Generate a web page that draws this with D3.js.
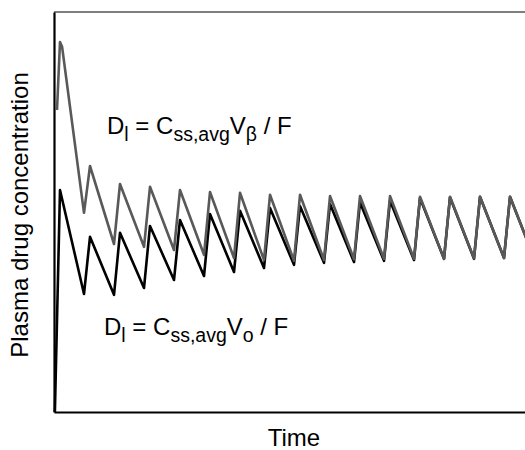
<!DOCTYPE html>
<html><head><meta charset="utf-8">
<script src="https://cdn.jsdelivr.net/npm/d3@7"></script>
<style>body{margin:0;background:#fff}svg{display:block}text{font-family:"Liberation Sans",Arial,sans-serif;fill:#000}</style>
</head><body><svg id="c" width="525" height="450"></svg>
<script>
// Dose times (dosing interval = 1 time unit)
const doseTimes = [0,1,2,3,4,5,6,7,8,9,10,11,12,13,14,15];
const peakOffset = 0.2;
// Maintenance-only regimen (black): peak after each dose, trough just before next dose
const maintStart = {t:0.03, c:0};
const maintPeaks = [55.5,43.8,44.8,46.5,48.0,49.5,50.3,51.0,51.5,52.0,52.4,52.8,53.5,53.7,53.8,53.8];
const maintTroughs = [29.5,29.3,31.0,33.0,34.0,35.0,36.0,36.8,37.3,37.5,37.8,38.0,38.3,38.3,38.5,38.5];
// Loading dose regimen (gray)
const loadStart = {t:0.1, c:75.5};
const loadShoulder = {t:0.27, c:91.3};
const loadPeaks = [92.5,61.5,57.0,56.3,55.5,55.0,54.8,54.3,54.3,54.0,54.0,54.0,53.8,53.8,53.8,53.8];
const loadTroughs = [49.8,42.0,41.3,40.5,39.3,38.5,38.0,37.8,38.0,38.2,38.3,38.3,38.3,38.4,38.5,38.5];

const svg = d3.select("#c");
const x = d3.scaleLinear().domain([0,16]).range([54,534]);
const y = d3.scaleLinear().domain([0,100]).range([412,12]);

function series(start, peaks, troughs, shoulder){
  const pts=[start];
  doseTimes.forEach((d,i)=>{
    pts.push({t:d+peakOffset, c:peaks[i]});
    if(i===0 && shoulder) pts.push(shoulder);
    pts.push({t:d+1, c:troughs[i]});
  });
  return pts;
}
const line = d3.line().x(d=>x(d.t)).y(d=>y(d.c)).curve(d3.curveLinear);

svg.append("path").datum(series(maintStart,maintPeaks,maintTroughs))
  .attr("d",line).attr("fill","none").attr("stroke","#000").attr("stroke-width",2.6)
  .attr("stroke-linejoin","round");
svg.append("path").datum(series(loadStart,loadPeaks,loadTroughs,loadShoulder))
  .attr("d",line).attr("fill","none").attr("stroke","#595959").attr("stroke-width",2.6)
  .attr("stroke-linejoin","round");

// frame
svg.append("line").attr("x1",x(0)).attr("x2",x(16)).attr("y1",y(100)).attr("y2",y(100))
  .attr("stroke","#555").attr("stroke-width",1.5);
svg.append("g").attr("transform",`translate(0,${y(0)})`)
  .call(d3.axisBottom(x).ticks(0).tickSizeOuter(0));
svg.append("g").attr("transform",`translate(${x(0)},0)`)
  .call(d3.axisLeft(y).ticks(0).tickSizeOuter(0));
svg.selectAll(".domain").attr("stroke","#000").attr("stroke-width",2.2);

svg.append("text").attr("x",294).attr("y",446).attr("text-anchor","middle")
  .attr("font-size",24).text("Time");
svg.append("text").attr("transform","translate(28,215) rotate(-90)").attr("text-anchor","middle")
  .attr("font-size",24).text("Plasma drug concentration");

function eq(x0,y0,sub){
  const t = svg.append("text").attr("x",x0).attr("y",y0).attr("font-size",24);
  t.append("tspan").text("D");
  t.append("tspan").attr("font-size",19.5).attr("dy",7).text("l");
  t.append("tspan").attr("dy",-7).text(" = C");
  t.append("tspan").attr("font-size",19.5).attr("dy",7).text("ss,avg");
  t.append("tspan").attr("dy",-7).text("V");
  t.append("tspan").attr("font-size",19.5).attr("dy",7).text(sub);
  t.append("tspan").attr("dy",-7).text(" / F");
}
eq(107,134,"β");
eq(104,335,"o");
</script></body></html>
